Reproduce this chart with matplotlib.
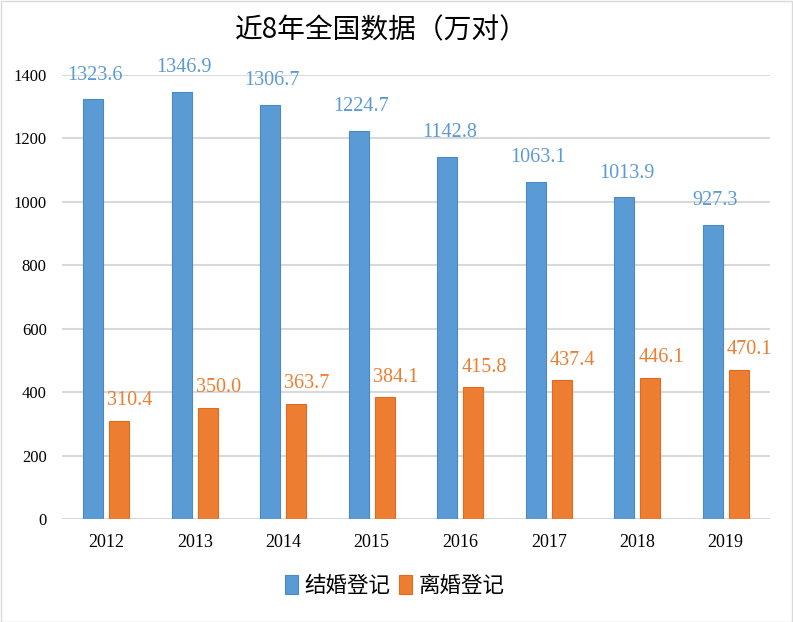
import matplotlib
matplotlib.use("Agg")
import matplotlib.pyplot as plt
from matplotlib.patches import Rectangle

years = ["2012", "2013", "2014", "2015", "2016", "2017", "2018", "2019"]
marriage = [1323.6, 1346.9, 1306.7, 1224.7, 1142.8, 1063.1, 1013.9, 927.3]
divorce = [310.4, 350.0, 363.7, 384.1, 415.8, 437.4, 446.1, 470.1]
yticks = [0, 200, 400, 600, 800, 1000, 1200, 1400]
title = "近8年全国数据（万对）"
series_names = ["结婚登记", "离婚登记"]

BLUE = "#5B9BD5"
BLUE_EDGE = "#4A89C6"
ORANGE = "#ED7D31"
ORANGE_EDGE = "#E06B1E"
GRID = "#D9D9D9"
SERIF = ["Liberation Serif", "DejaVu Serif"]
CJK = ["Noto Sans CJK SC", "DejaVu Sans"]

fig = plt.figure(figsize=(7.93, 6.22), dpi=100)
fig.patch.set_facecolor("white")
ax = fig.add_axes([62 / 793, 1 - 519 / 622, 708 / 793, 444 / 622])

x = list(range(len(years)))
w = 0.225
off = 0.145
b1 = ax.bar([i - off for i in x], marriage, width=w, color=BLUE,
            edgecolor=BLUE_EDGE, linewidth=0.8, label=series_names[0], zorder=3)
b2 = ax.bar([i + off for i in x], divorce, width=w, color=ORANGE,
            edgecolor=ORANGE_EDGE, linewidth=0.8, label=series_names[1], zorder=3)

for rect, v in zip(b1, marriage):
    ax.annotate(f"{v:.1f}", (rect.get_x() + rect.get_width() / 2, v),
                xytext=(2, 24), textcoords="offset pixels", ha="center", va="center",
                color=BLUE, fontsize=14.5, family=SERIF)
for rect, v in zip(b2, divorce):
    ax.annotate(f"{v:.1f}", (rect.get_x() + rect.get_width() / 2, v),
                xytext=(11, 20), textcoords="offset pixels", ha="center", va="center",
                color=ORANGE, fontsize=14.5, family=SERIF)

ax.set_xlim(-0.5, len(years) - 0.5)
ax.set_ylim(0, 1400)
ax.set_yticks(yticks)
ax.set_yticklabels([str(t) for t in yticks], family=SERIF, fontsize=12)
ax.set_xticks(x)
ax.set_xticklabels(years, family=SERIF, fontsize=13)
ax.tick_params(axis="both", length=0, colors="#000000")
ax.tick_params(axis="y", pad=11)
ax.tick_params(axis="x", pad=11)
for s in ax.spines.values():
    s.set_visible(False)
ax.yaxis.grid(True, color=GRID, linewidth=1.5, zorder=0)
ax.set_axisbelow(True)
ax.axhline(0, color=GRID, linewidth=1.5, zorder=2)

fig.text(381 / 793, 1 - 30 / 622, title, ha="center", va="center",
         fontsize=20, family=CJK)

leg = fig.legend(handles=[b1, b2], labels=series_names, loc="center",
                 bbox_to_anchor=(395 / 793, 1 - 586 / 622), ncol=2, frameon=False,
                 prop={"family": CJK, "size": 15.5}, handlelength=0.6, handleheight=1.0,
                 handletextpad=0.3, columnspacing=0.4)

fig.add_artist(Rectangle((0.5 / 793, 0.5 / 622), 791.5 / 793, 620.5 / 622,
                         transform=fig.transFigure, fill=False, edgecolor="#D9D9D9",
                         linewidth=1.0))

fig.savefig("out.png", dpi=100)
